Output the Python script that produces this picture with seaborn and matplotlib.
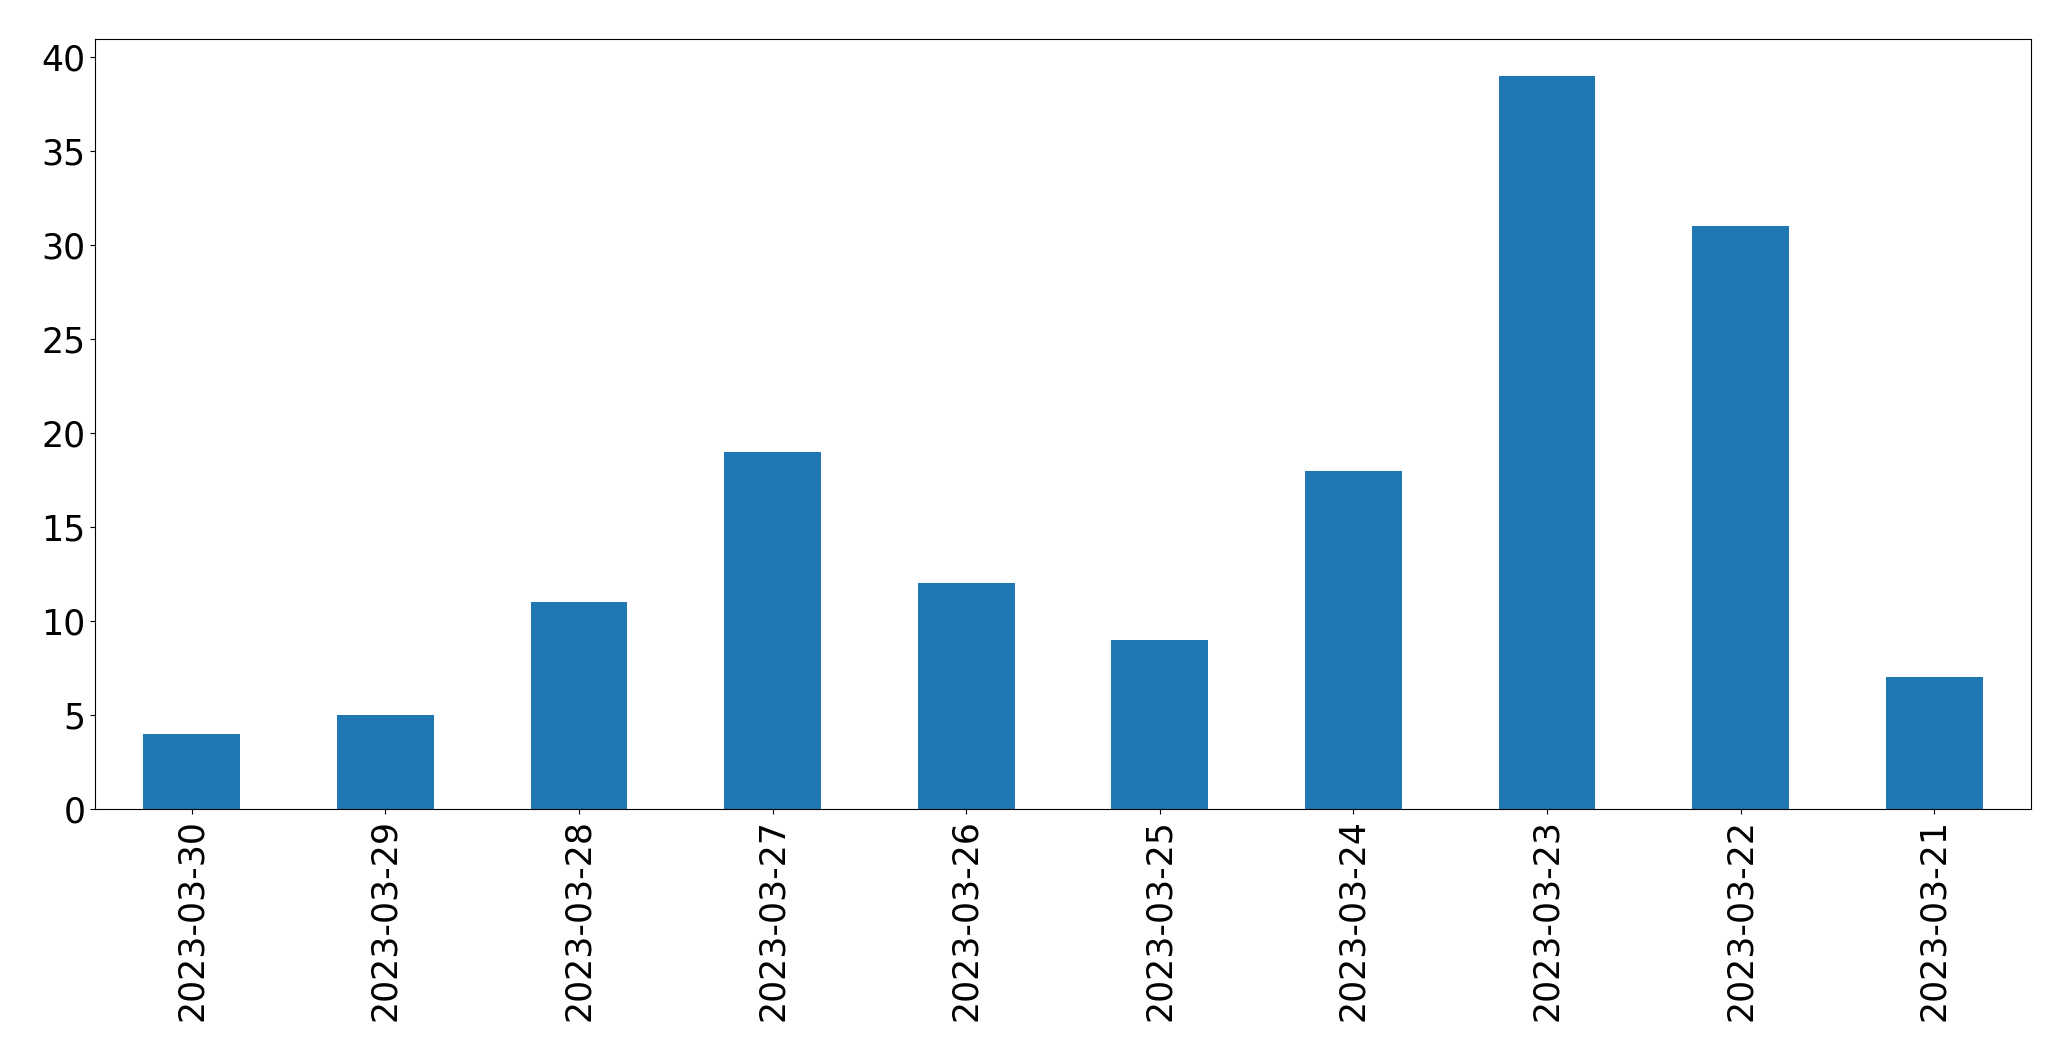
import matplotlib
matplotlib.use("Agg")
import matplotlib.pyplot as plt
import seaborn as sns
import pandas as pd

dates = ["2023-03-30", "2023-03-29", "2023-03-28", "2023-03-27", "2023-03-26",
         "2023-03-25", "2023-03-24", "2023-03-23", "2023-03-22", "2023-03-21"]
counts = [4, 5, 11, 19, 12, 9, 18, 39, 31, 7]

df = pd.DataFrame({"date": dates, "count": counts})

fig = plt.figure(figsize=(20.71, 10.61), dpi=100)
ax = fig.add_axes([95 / 2071, 1 - 809 / 1061, (2031 - 95) / 2071, (809 - 39) / 1061])
sns.barplot(data=df, x="date", y="count", order=dates, color="#1f77b4",
            saturation=1, width=0.5, ax=ax, errorbar=None)
ax.set_xlim(-0.5, len(dates) - 0.5)
ax.set_ylim(0, max(counts) * 1.05)
ax.set_xlabel("")
ax.set_ylabel("")
ax.tick_params(axis="both", labelsize=25)
plt.setp(ax.get_xticklabels(), rotation=90)
for s in ax.spines.values():
    s.set_visible(True)
    s.set_color("black")
fig.savefig("out.png", dpi=100)
